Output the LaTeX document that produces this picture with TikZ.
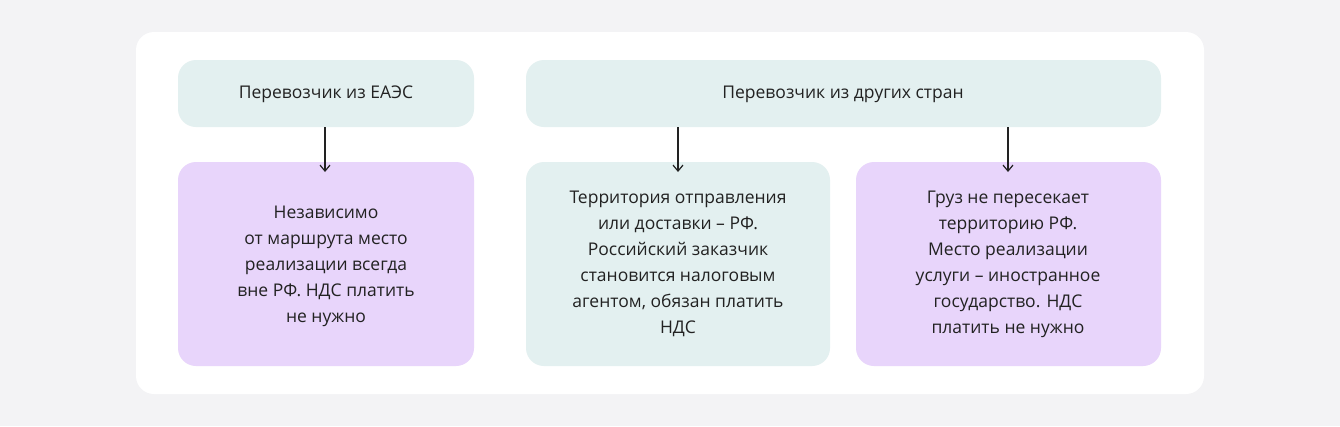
\documentclass[tikz,border=0pt]{standalone}
\usepackage{fontspec}
\setmainfont{Open Sans}
\usetikzlibrary{arrows.meta}
\definecolor{bg}{HTML}{F3F3F5}
\definecolor{teal}{HTML}{E3F0F0}
\definecolor{lil}{HTML}{E8D5FB}
\definecolor{txt}{HTML}{222222}
\begin{document}
\begin{tikzpicture}[x=1pt,y=-1pt,
  box/.style={rounded corners=18pt,text=txt,align=center,font=\fontsize{17.5}{26}\selectfont},
  arr/.style={-{Straight Barb[length=6pt,width=10pt]},line width=1.2pt,txt}]
\fill[bg] (0,0) rectangle (1340,426);
\useasboundingbox (0,0) rectangle (1340,426);
\fill[white,rounded corners=18pt] (136,32) rectangle (1204,394);
\fill[teal,rounded corners=18pt] (178,60) rectangle (474,127);
\node[box] (a) at (326,94) {Перевозчик из ЕАЭС};
\fill[teal,rounded corners=18pt] (526,60) rectangle (1161,127);
\node[box] (b) at (843,94) {Перевозчик из других стран};
\fill[lil,rounded corners=18pt] (178,162) rectangle (474,366);
\node[box] (c) at (326,266) {Независимо\\от маршрута место\\реализации всегда\\вне РФ. НДС платить\\не нужно};
\fill[teal,rounded corners=18pt] (526,162) rectangle (830,366);
\node[box] (d) at (678,264) {Территория отправления\\или доставки – РФ.\\Российский заказчик\\становится налоговым\\агентом, обязан платить\\НДС};
\fill[lil,rounded corners=18pt] (856,162) rectangle (1161,366);
\node[box] (e) at (1008,264) {Груз не пересекает\\территорию РФ.\\Место реализации\\услуги – иностранное\\государство. НДС\\платить не нужно};
\coordinate (a1) at (325,127); \coordinate (a2) at (325,172);
\coordinate (b1) at (678,127); \coordinate (b2) at (678,172);
\coordinate (c1) at (1008,127); \coordinate (c2) at (1008,172);
\draw[arr] (a1) -- (a2);
\draw[arr] (b1) -- (b2);
\draw[arr] (c1) -- (c2);
\end{tikzpicture}
\end{document}
